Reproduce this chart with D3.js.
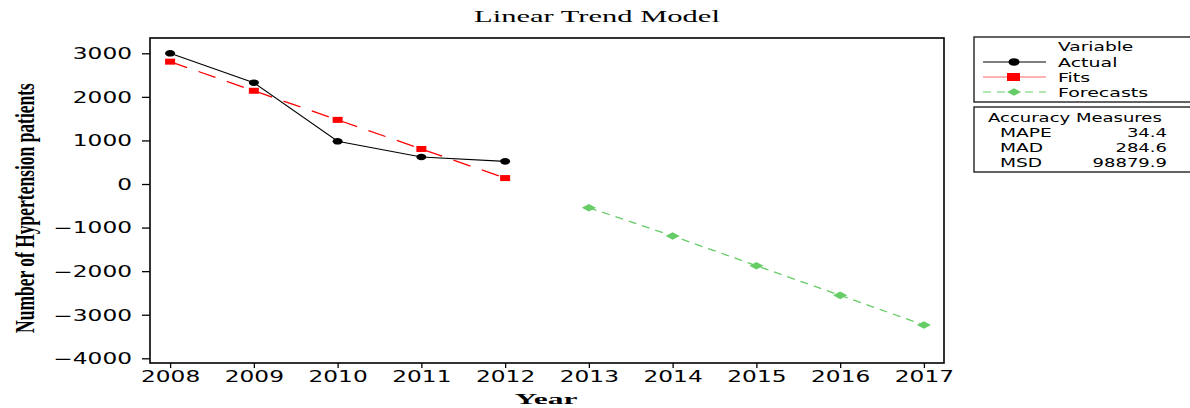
<!DOCTYPE html>
<html>
<head>
<meta charset="utf-8">
<script src="https://cdn.jsdelivr.net/npm/d3@7"></script>
<style>
  body { margin: 0; background: #fff; }
  svg { display: block; }
</style>
</head>
<body>
<svg id="chart"></svg>
<script>
const width = 1190;
const height = 408;

// data
const fitYears = [2008, 2009, 2010, 2011, 2012];
const actual = [3000, 2325, 980, 620, 520];
const fits = [2808, 2140, 1472, 804, 136];
const forecastYears = [2013, 2014, 2015, 2016, 2017];
const forecasts = [-544, -1193, -1875, -2555, -3236];
const yTicks = [3000, 2000, 1000, 0, -1000, -2000, -3000, -4000];
const xTicks = [2008, 2009, 2010, 2011, 2012, 2013, 2014, 2015, 2016, 2017];
const measureNames = ["MAPE", "MAD", "MSD"];
const measureValues = ["34.4", "284.6", "98879.9"];
const legendNames = ["Actual", "Fits", "Forecasts"];

const sans = "'DejaVu Sans', Verdana, sans-serif";
const serif = "'Liberation Serif', 'Times New Roman', serif";

const svg = d3.select("#chart").attr("width", width).attr("height", height);

const box = {left: 150, right: 944, top: 38, bottom: 363};

const x = d3.scaleLinear().domain([2007.76, 2017.24]).range([box.left, box.right]);
const y = d3.scaleLinear().domain([-4108, 3351]).range([box.bottom, box.top]);

// stretch text horizontally like the original export
function stretch(sel, k) {
  sel.each(function () {
    const len = this.getComputedTextLength();
    d3.select(this).attr("textLength", len * k).attr("lengthAdjust", "spacingAndGlyphs");
  });
}

// title
svg.append("text")
  .attr("x", 597).attr("y", 22)
  .attr("text-anchor", "middle")
  .attr("font-family", serif).attr("font-size", 16.5)
  .text("Linear Trend Model")
  .call(stretch, 1.85);

// axes
const yAxis = svg.append("g")
  .attr("transform", `translate(${box.left},0)`)
  .call(d3.axisLeft(y).tickValues(yTicks).tickSize(8).tickPadding(10).tickFormat(d3.format("d")));
yAxis.select(".domain").remove();
yAxis.selectAll("text").attr("font-family", sans).attr("font-size", 15).attr("dy", "0.36em").call(stretch, 1.55);

const xAxis = svg.append("g")
  .attr("transform", `translate(0,${box.bottom})`)
  .call(d3.axisBottom(x).tickValues(xTicks).tickSize(5).tickPadding(3).tickFormat(d3.format("d")));
xAxis.select(".domain").remove();
xAxis.selectAll("text").attr("font-family", sans).attr("font-size", 15).call(stretch, 1.55);
svg.selectAll(".tick line").attr("stroke", "#000").attr("stroke-width", 1.3);

// frame
svg.append("rect")
  .attr("x", box.left).attr("y", box.top)
  .attr("width", box.right - box.left).attr("height", box.bottom - box.top)
  .attr("fill", "none").attr("stroke", "#000").attr("stroke-width", 1.6);

// axis titles
svg.append("text")
  .attr("x", 546).attr("y", 404)
  .attr("text-anchor", "middle")
  .attr("font-family", serif).attr("font-weight", "bold").attr("font-size", 15)
  .text("Year")
  .call(stretch, 2.1);

// condensed y title: squeeze along the text direction with a scale
const yTitle = svg.append("text")
  .attr("text-anchor", "middle")
  .attr("font-family", serif).attr("font-weight", "bold").attr("font-size", 28)
  .text("Number of Hypertension patients");
const yTitleScale = 250 / yTitle.node().getComputedTextLength();
yTitle.attr("transform", `translate(34,208) rotate(-90) scale(${yTitleScale},1)`);

const line = d3.line().x(d => x(d[0])).y(d => y(d[1]));

const actualData = d3.zip(fitYears, actual);
const fitData = d3.zip(fitYears, fits);
const fcData = d3.zip(forecastYears, forecasts);

const red = "#ff0000";
const green = "#66cc66";

// fits
svg.append("path").datum(fitData)
  .attr("d", line).attr("fill", "none")
  .attr("stroke", red).attr("stroke-width", 1.3).attr("stroke-dasharray", "18,12");
svg.append("g").selectAll("rect").data(fitData).join("rect")
  .attr("x", d => x(d[0]) - 5).attr("y", d => y(d[1]) - 3)
  .attr("width", 10).attr("height", 6).attr("fill", red);

// actual
svg.append("path").datum(actualData)
  .attr("d", line).attr("fill", "none")
  .attr("stroke", "#000").attr("stroke-width", 1.1);
svg.append("g").selectAll("ellipse").data(actualData).join("ellipse")
  .attr("cx", d => x(d[0])).attr("cy", d => y(d[1]))
  .attr("rx", 5).attr("ry", 3.3).attr("fill", "#000");

// forecasts
svg.append("path").datum(fcData)
  .attr("d", line).attr("fill", "none")
  .attr("stroke", green).attr("stroke-width", 1.3).attr("stroke-dasharray", "8,6");
const diamond = (cx, cy) => `M${cx - 7},${cy}L${cx},${cy - 3.8}L${cx + 7},${cy}L${cx},${cy + 3.8}Z`;
svg.append("g").selectAll("path").data(fcData).join("path")
  .attr("d", d => diamond(x(d[0]), y(d[1]))).attr("fill", green);

// legend: variable box
const lg = svg.append("g");
lg.append("rect").attr("x", 974).attr("y", 37).attr("width", 240).attr("height", 65)
  .attr("fill", "#fff").attr("stroke", "#222").attr("stroke-width", 1.4);
lg.append("text").attr("x", 1058).attr("y", 51)
  .attr("font-family", sans).attr("font-size", 12).text("Variable").call(stretch, 1.55);

const legendStyles = [
  {stroke: "#000", dash: null, mark: "circle"},
  {stroke: "#ff6666", dash: null, mark: "square"},
  {stroke: green, dash: "8,6", mark: "diamond"}
];
legendNames.forEach((name, i) => {
  const ly = 62 + i * 15;
  const st = legendStyles[i];
  lg.append("line").attr("x1", 983).attr("x2", 1046).attr("y1", ly).attr("y2", ly)
    .attr("stroke", st.stroke).attr("stroke-width", 1.2)
    .attr("stroke-dasharray", st.dash);
  if (st.mark === "circle") {
    lg.append("ellipse").attr("cx", 1014).attr("cy", ly).attr("rx", 5.5).attr("ry", 3.8).attr("fill", "#000");
  } else if (st.mark === "square") {
    lg.append("rect").attr("x", 1007).attr("y", ly - 4).attr("width", 13).attr("height", 8).attr("fill", red);
  } else {
    lg.append("path").attr("d", diamond(1014, ly)).attr("fill", green);
  }
  lg.append("text").attr("x", 1058).attr("y", ly + 4.5)
    .attr("font-family", sans).attr("font-size", 12).text(name).call(stretch, 1.58);
});

// legend: accuracy box
lg.append("rect").attr("x", 974).attr("y", 107).attr("width", 240).attr("height", 65)
  .attr("fill", "#fff").attr("stroke", "#222").attr("stroke-width", 1.4);
lg.append("text").attr("x", 988).attr("y", 122)
  .attr("font-family", sans).attr("font-size", 12).text("Accuracy Measures").call(stretch, 1.5);
measureNames.forEach((name, i) => {
  const ly = 137 + i * 14.8;
  lg.append("text").attr("x", 1000).attr("y", ly)
    .attr("font-family", sans).attr("font-size", 12).text(name).call(stretch, 1.55);
  lg.append("text").attr("x", 1167).attr("y", ly).attr("text-anchor", "end")
    .attr("font-family", sans).attr("font-size", 12).text(measureValues[i]).call(stretch, 1.5);
});
</script>
</body>
</html>
